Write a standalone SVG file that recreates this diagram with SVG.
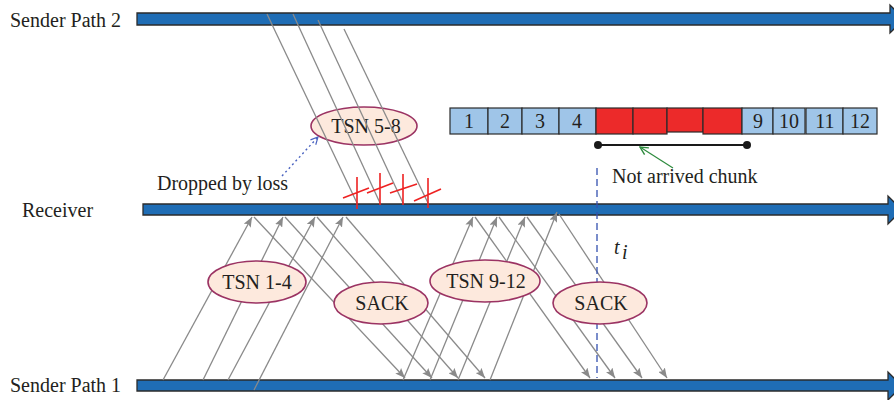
<svg xmlns="http://www.w3.org/2000/svg" width="894" height="400" viewBox="0 0 894 400">
<style>
  text { font-family: "Liberation Serif", "Times New Roman", serif; font-size: 20px; fill: #231f20; }
  .bar { fill: #1f6db5; stroke: #2b2b2b; stroke-width: 1.3; }
  .oval { fill: #fde9dd; stroke: #9b3363; stroke-width: 1.6; }
  .msg { stroke: #8a8a8a; stroke-width: 1.3; fill: none; }
  .arr { marker-end: url(#ah); }
  .box { fill: #9fc5e8; stroke: #2b2b2b; stroke-width: 1.2; }
  .lost { fill: #ec2a2a; stroke: #2b2b2b; stroke-width: 1.2; }
  .cross { stroke: #ee2222; stroke-width: 1.6; fill: none; }
  .mid { text-anchor: middle; }
</style>
<defs>
  <marker id="ah" viewBox="0 0 10 8" refX="10" refY="4" markerWidth="10" markerHeight="8" markerUnits="userSpaceOnUse" orient="auto">
    <path d="M0,0 L10,4 L0,8 L2,4 z" fill="#8a8a8a"/>
  </marker>
  <marker id="ahBlue" viewBox="0 0 10 10" refX="9" refY="5" markerWidth="9" markerHeight="9" markerUnits="userSpaceOnUse" orient="auto">
    <path d="M1,1 L9,5 L1,9" fill="none" stroke="#4a63c0" stroke-width="1.3"/>
  </marker>
  <marker id="ahGreen" viewBox="0 0 10 10" refX="9" refY="5" markerWidth="10" markerHeight="10" markerUnits="userSpaceOnUse" orient="auto">
    <path d="M1,1 L9,5 L1,9" fill="none" stroke="#2e8b3e" stroke-width="1.4"/>
  </marker>
</defs>
<rect width="894" height="400" fill="#ffffff"/>

<g id="sender-path-2">
  <path class="bar" d="M137,13 H890 V5 L904,19 L890,33 V25 H137 Z"/>
  <text x="10" y="27">Sender Path 2</text>
</g>
<g id="receiver">
  <path class="bar" d="M143,204 H888 V196 L902,210 L888,224 V215 H143 Z"/>
  <text x="22" y="217">Receiver</text>
</g>
<g id="sender-path-1">
  <path class="bar" d="M137,380 H888 V372 L902,386 L888,400 V391 H137 Z"/>
  <text x="10" y="392">Sender Path 1</text>
</g>

<g id="tsn-5-8">
  <ellipse class="oval" cx="364" cy="126" rx="53" ry="19"/>
  <text class="mid" x="366" y="133">TSN 5-8</text>
</g>

<g id="connectors">
  <!-- path 2 lost data -->
  <line class="msg" x1="267" y1="14" x2="357" y2="203"/>
  <line class="msg" x1="293" y1="14" x2="380" y2="203"/>
  <line class="msg" x1="318" y1="20" x2="403" y2="203"/>
  <line class="msg" x1="344" y1="29" x2="428" y2="203"/>
  <!-- TSN 1-4 up -->
  <line class="msg arr" x1="163" y1="380" x2="252" y2="217"/>
  <line class="msg arr" x1="203" y1="380" x2="283" y2="217"/>
  <line class="msg arr" x1="228" y1="380" x2="315" y2="217"/>
  <line class="msg arr" x1="254" y1="390" x2="343" y2="217"/>
  <!-- SACK 1 down -->
  <line class="msg arr" x1="254" y1="217" x2="405" y2="378"/>
  <line class="msg arr" x1="285" y1="217" x2="432" y2="378"/>
  <line class="msg arr" x1="317" y1="217" x2="458" y2="378"/>
  <line class="msg arr" x1="346" y1="217" x2="485" y2="378"/>
  <!-- TSN 9-12 up -->
  <line class="msg arr" x1="403" y1="380" x2="473" y2="217"/>
  <line class="msg arr" x1="430" y1="380" x2="497" y2="217"/>
  <line class="msg arr" x1="458" y1="380" x2="525" y2="217"/>
  <line class="msg arr" x1="490" y1="380" x2="557" y2="212"/>
  <!-- SACK 2 down -->
  <line class="msg arr" x1="475" y1="217" x2="590" y2="378"/>
  <line class="msg arr" x1="499" y1="217" x2="615" y2="378"/>
  <line class="msg arr" x1="527" y1="217" x2="642" y2="378"/>
  <line class="msg arr" x1="559" y1="214" x2="667" y2="378"/>
  <!-- time marker -->
  <line x1="597" y1="168" x2="597" y2="378" stroke="#3451b0" stroke-width="1.3" stroke-dasharray="7,4"/>
  <!-- annotation arrows -->
  <line x1="282" y1="176" x2="318" y2="137" stroke="#4a63c0" stroke-width="1.4" stroke-dasharray="2,3" marker-end="url(#ahBlue)"/>
  <line x1="673" y1="168" x2="640" y2="147" stroke="#2e8b3e" stroke-width="1.2" marker-end="url(#ahGreen)"/>
</g>

<g id="loss-marks">
  <path class="cross" d="M357,177 V209 M343,198 L369,188"/>
  <path class="cross" d="M380,173 V205 M367,193 L393,183"/>
  <path class="cross" d="M403,174 V205 M390,193 L417,184"/>
  <path class="cross" d="M428,178 V208 M414,201 L441,189"/>
</g>

<g id="tsn-1-4">
  <ellipse class="oval" cx="257" cy="282" rx="49" ry="21"/>
  <text class="mid" x="257" y="289">TSN 1-4</text>
</g>
<g id="sack-1">
  <ellipse class="oval" cx="381" cy="303" rx="47" ry="21"/>
  <text class="mid" x="382" y="310">SACK</text>
</g>
<g id="tsn-9-12">
  <ellipse class="oval" cx="485" cy="281" rx="55" ry="21"/>
  <text class="mid" x="486" y="288">TSN 9-12</text>
</g>
<g id="sack-2">
  <ellipse class="oval" cx="600" cy="303" rx="47" ry="21"/>
  <text class="mid" x="601" y="310">SACK</text>
</g>

<g id="dropped-label">
  <text x="157" y="190">Dropped by loss</text>
</g>

<g id="chunk-buffer">
  <rect class="box" x="450" y="108" width="38" height="26"/>
  <rect class="box" x="488" y="108" width="34" height="26"/>
  <rect class="box" x="522" y="108" width="37" height="26"/>
  <rect class="box" x="559" y="108" width="37" height="26"/>
  <rect class="lost" x="596" y="108" width="37" height="26"/>
  <rect class="lost" x="633" y="108" width="34" height="26"/>
  <rect class="lost" x="667" y="108" width="36" height="24"/>
  <rect class="lost" x="703" y="108" width="39" height="26"/>
  <rect class="box" x="742" y="108" width="31" height="26"/>
  <rect class="box" x="773" y="108" width="32" height="26" stroke-width="1.8"/>
  <rect class="box" x="806" y="108" width="37" height="26"/>
  <rect class="box" x="843" y="108" width="34" height="26"/>
  <text class="mid" x="469" y="128">1</text>
  <text class="mid" x="505" y="128">2</text>
  <text class="mid" x="540" y="128">3</text>
  <text class="mid" x="577" y="128">4</text>
  <text class="mid" x="758" y="128">9</text>
  <text class="mid" x="789" y="128">10</text>
  <text class="mid" x="825" y="128">11</text>
  <text class="mid" x="860" y="128">12</text>
</g>

<g id="not-arrived">
  <line x1="598" y1="145" x2="747" y2="145" stroke="#1a1a1a" stroke-width="2"/>
  <circle cx="598" cy="145" r="4" fill="#1a1a1a"/>
  <circle cx="747" cy="145" r="4" fill="#1a1a1a"/>
  <text x="612" y="183">Not arrived chunk</text>
</g>

<g id="time-label">
  <text x="614" y="254" font-style="italic">t</text>
  <text x="622" y="259" font-style="italic" font-size="14">i</text>
</g>
</svg>
